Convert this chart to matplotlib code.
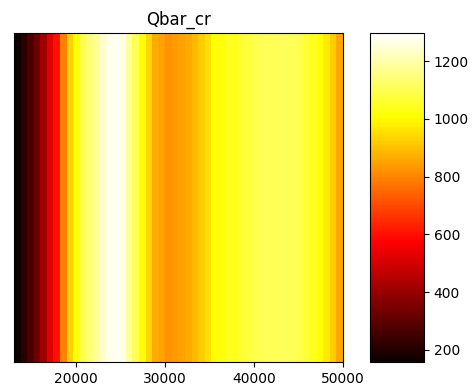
import numpy as np
import matplotlib
matplotlib.use("Agg")
import matplotlib.pyplot as plt

# x range of the grid (column edges span this range)
x_start = 13000
x_end = 50000

# Qbar_cr value for each vertical column (left to right)
qbar_cr = [165, 215, 270, 330, 420, 520, 600, 790, 930, 1015,
           1090, 1140, 1180, 1235, 1272, 1280, 1268, 1185, 1100, 1010,
           940, 865, 850, 825, 835, 850, 865, 890, 920, 955,
           1010, 1020, 1045, 1035, 1060, 1075, 1090, 1100, 1105, 1105,
           1110, 1110, 1105, 1090, 1065, 1040, 1010, 975, 920, 860]
n_rows = 10
vmin, vmax = 158, 1297
xticks = [20000, 30000, 40000, 50000]
cbar_ticks = [200, 400, 600, 800, 1000, 1200]

W, H = 474, 390
fig = plt.figure(figsize=(W / 100, H / 100), dpi=100)

ax = fig.add_axes([14 / W, 1 - 362 / H, (343 - 14) / W, (362 - 33) / H])
data = np.tile(np.array(qbar_cr, dtype=float), (n_rows, 1))
im = ax.imshow(data, cmap="hot", aspect="auto", vmin=vmin, vmax=vmax,
               extent=[x_start, x_end, 0, n_rows], origin="lower",
               interpolation="nearest")
ax.set_yticks([])
ax.set_xticks(xticks)
ax.tick_params(axis="x", labelsize=10)
ax.set_title("Qbar_cr", fontsize=12)

cax = fig.add_axes([370 / W, 1 - 362 / H, (424 - 370) / W, (362 - 33) / H])
cb = fig.colorbar(im, cax=cax)
cb.set_ticks(cbar_ticks)
cax.tick_params(labelsize=10)

fig.savefig("out.png", dpi=100)
